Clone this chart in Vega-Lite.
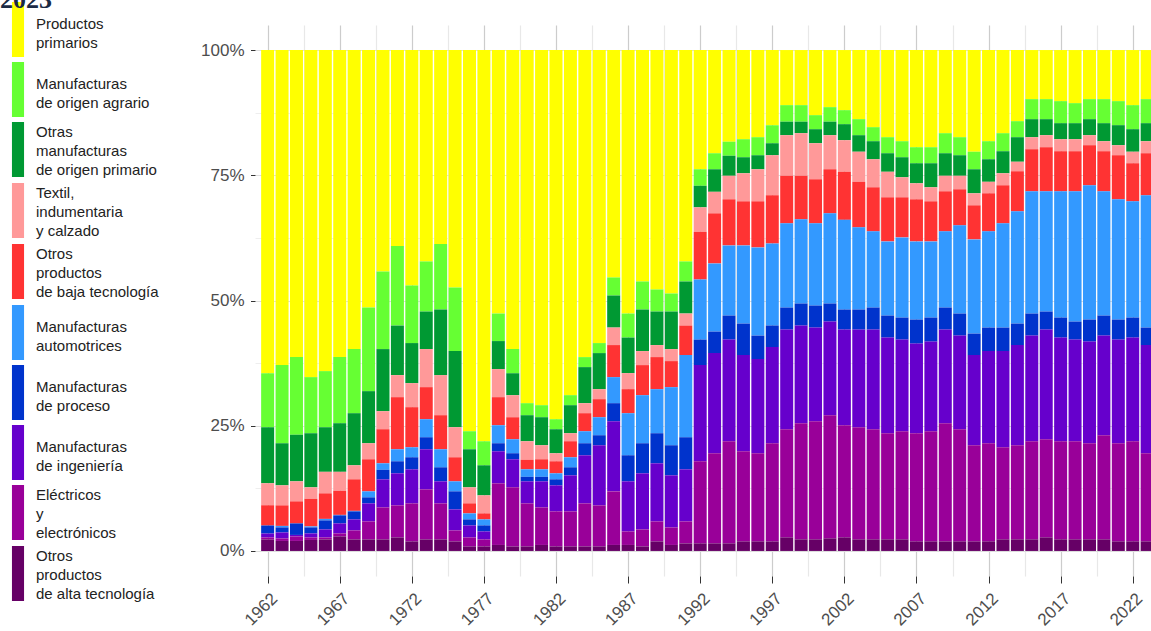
{
  "$schema": "https://vega.github.io/schema/vega-lite/v6.json",
  "width": 896,
  "height": 551,
  "autosize": {"type": "none"},
  "padding": {"left": 255, "top": 25, "right": 0, "bottom": 55},
  "background": "white",
  "title": {"text": "2023", "anchor": "start", "frame": "group", "orient": "top", "offset": 0, "dx": -255, "dy": 32, "baseline": "alphabetic", "font": "Liberation Serif", "fontSize": 26, "fontWeight": "bold", "color": "#1b2a44"},
  "data": {"values": [
    {"year":1962,"alta":2.3,"electricos":0.4,"ingenieria":0.8,"proceso":1.6,"auto":0.0,"baja":4.0,"textil":4.4,"omop":11.2,"moa":10.8,"primarios":64.5},
    {"year":1963,"alta":2.0,"electricos":0.5,"ingenieria":1.2,"proceso":1.0,"auto":0.3,"baja":4.1,"textil":4.0,"omop":8.4,"moa":15.6,"primarios":62.9},
    {"year":1964,"alta":2.0,"electricos":0.9,"ingenieria":0.3,"proceso":2.3,"auto":0.0,"baja":4.4,"textil":4.0,"omop":9.3,"moa":15.5,"primarios":61.3},
    {"year":1965,"alta":2.2,"electricos":0.5,"ingenieria":0.8,"proceso":1.2,"auto":0.2,"baja":5.5,"textil":2.3,"omop":10.8,"moa":11.2,"primarios":65.3},
    {"year":1966,"alta":2.3,"electricos":0.4,"ingenieria":1.6,"proceso":1.8,"auto":0.3,"baja":5.1,"textil":4.3,"omop":8.9,"moa":11.2,"primarios":64.1},
    {"year":1967,"alta":2.9,"electricos":0.6,"ingenieria":2.0,"proceso":1.6,"auto":0.1,"baja":4.8,"textil":3.8,"omop":9.7,"moa":13.2,"primarios":61.3},
    {"year":1968,"alta":2.3,"electricos":1.8,"ingenieria":2.2,"proceso":1.6,"auto":0.1,"baja":6.3,"textil":2.8,"omop":10.4,"moa":12.8,"primarios":59.7},
    {"year":1969,"alta":2.3,"electricos":3.6,"ingenieria":3.6,"proceso":1.2,"auto":1.2,"baja":6.4,"textil":3.2,"omop":10.4,"moa":16.7,"primarios":51.4},
    {"year":1970,"alta":2.3,"electricos":6.4,"ingenieria":5.6,"proceso":1.9,"auto":1.3,"baja":6.8,"textil":3.6,"omop":12.4,"moa":15.5,"primarios":44.2},
    {"year":1971,"alta":2.7,"electricos":6.4,"ingenieria":6.4,"proceso":2.4,"auto":2.4,"baja":10.4,"textil":4.4,"omop":9.9,"moa":15.9,"primarios":39.1},
    {"year":1972,"alta":1.9,"electricos":7.6,"ingenieria":6.8,"proceso":2.4,"auto":2.0,"baja":8.0,"textil":4.8,"omop":8.0,"moa":11.5,"primarios":47.0},
    {"year":1973,"alta":2.3,"electricos":10.0,"ingenieria":8.0,"proceso":2.4,"auto":3.6,"baja":6.4,"textil":7.6,"omop":7.5,"moa":10.0,"primarios":42.2},
    {"year":1974,"alta":2.3,"electricos":7.2,"ingenieria":4.4,"proceso":2.8,"auto":3.6,"baja":6.8,"textil":8.0,"omop":13.1,"moa":13.1,"primarios":38.7},
    {"year":1975,"alta":1.9,"electricos":2.2,"ingenieria":4.2,"proceso":3.6,"auto":2.0,"baja":4.8,"textil":6.0,"omop":15.2,"moa":12.7,"primarios":47.4},
    {"year":1976,"alta":0.9,"electricos":1.8,"ingenieria":2.4,"proceso":1.2,"auto":1.2,"baja":2.0,"textil":3.2,"omop":7.6,"moa":3.6,"primarios":76.1},
    {"year":1977,"alta":0.9,"electricos":1.4,"ingenieria":1.6,"proceso":1.2,"auto":1.2,"baja":1.2,"textil":3.6,"omop":6.0,"moa":4.8,"primarios":78.1},
    {"year":1978,"alta":1.2,"electricos":12.3,"ingenieria":6.4,"proceso":1.6,"auto":3.6,"baja":5.6,"textil":5.6,"omop":5.6,"moa":5.5,"primarios":52.6},
    {"year":1979,"alta":0.9,"electricos":11.8,"ingenieria":5.6,"proceso":1.2,"auto":2.8,"baja":4.4,"textil":4.4,"omop":4.4,"moa":4.8,"primarios":59.7},
    {"year":1980,"alta":0.9,"electricos":8.6,"ingenieria":4.4,"proceso":0.9,"auto":1.5,"baja":1.9,"textil":3.7,"omop":5.2,"moa":2.4,"primarios":70.5},
    {"year":1981,"alta":1.2,"electricos":7.5,"ingenieria":5.2,"proceso":0.9,"auto":1.5,"baja":2.0,"textil":2.8,"omop":5.6,"moa":2.4,"primarios":70.9},
    {"year":1982,"alta":0.9,"electricos":7.0,"ingenieria":5.2,"proceso":1.2,"auto":1.2,"baja":2.4,"textil":1.6,"omop":4.8,"moa":2.0,"primarios":73.7},
    {"year":1983,"alta":0.9,"electricos":7.0,"ingenieria":7.2,"proceso":1.6,"auto":2.0,"baja":3.2,"textil":1.6,"omop":5.6,"moa":2.0,"primarios":68.9},
    {"year":1984,"alta":0.9,"electricos":8.6,"ingenieria":9.6,"proceso":2.4,"auto":2.4,"baja":3.6,"textil":2.0,"omop":7.2,"moa":2.0,"primarios":61.3},
    {"year":1985,"alta":0.9,"electricos":8.2,"ingenieria":12.0,"proceso":2.0,"auto":3.6,"baja":3.6,"textil":2.0,"omop":7.2,"moa":2.0,"primarios":58.5},
    {"year":1986,"alta":1.2,"electricos":10.7,"ingenieria":14.0,"proceso":3.6,"auto":5.2,"baja":6.4,"textil":3.5,"omop":6.4,"moa":3.6,"primarios":45.4},
    {"year":1987,"alta":1.2,"electricos":2.7,"ingenieria":10.0,"proceso":5.2,"auto":8.4,"baja":4.8,"textil":3.2,"omop":7.1,"moa":4.8,"primarios":52.6},
    {"year":1988,"alta":0.9,"electricos":3.4,"ingenieria":11.2,"proceso":6.0,"auto":9.6,"baja":6.0,"textil":2.8,"omop":8.3,"moa":5.6,"primarios":46.2},
    {"year":1989,"alta":1.9,"electricos":4.0,"ingenieria":11.6,"proceso":6.0,"auto":8.8,"baja":6.4,"textil":2.4,"omop":6.7,"moa":4.4,"primarios":47.8},
    {"year":1990,"alta":1.2,"electricos":3.5,"ingenieria":10.4,"proceso":6.0,"auto":11.6,"baja":5.2,"textil":2.4,"omop":7.5,"moa":3.6,"primarios":48.6},
    {"year":1991,"alta":1.5,"electricos":4.4,"ingenieria":10.4,"proceso":6.4,"auto":16.4,"baja":5.9,"textil":2.4,"omop":6.4,"moa":4.0,"primarios":42.2},
    {"year":1992,"alta":1.5,"electricos":16.4,"ingenieria":19.2,"proceso":5.1,"auto":12.0,"baja":9.5,"textil":4.9,"omop":4.3,"moa":3.3,"primarios":23.8},
    {"year":1993,"alta":1.5,"electricos":18.0,"ingenieria":20.0,"proceso":4.3,"auto":13.6,"baja":10.0,"textil":4.3,"omop":4.5,"moa":3.2,"primarios":20.6},
    {"year":1994,"alta":1.5,"electricos":20.4,"ingenieria":20.3,"proceso":4.8,"auto":14.0,"baja":9.2,"textil":4.7,"omop":4.0,"moa":2.8,"primarios":18.3},
    {"year":1995,"alta":1.9,"electricos":18.0,"ingenieria":19.2,"proceso":6.3,"auto":15.6,"baja":8.8,"textil":5.6,"omop":3.2,"moa":3.6,"primarios":17.8},
    {"year":1996,"alta":1.9,"electricos":17.6,"ingenieria":18.8,"proceso":4.7,"auto":17.6,"baja":9.2,"textil":6.4,"omop":2.8,"moa":3.6,"primarios":17.4},
    {"year":1997,"alta":1.9,"electricos":19.6,"ingenieria":19.2,"proceso":4.3,"auto":16.4,"baja":9.6,"textil":8.0,"omop":2.4,"moa":3.6,"primarios":15.0},
    {"year":1998,"alta":2.7,"electricos":21.6,"ingenieria":19.9,"proceso":4.4,"auto":16.8,"baja":9.5,"textil":8.1,"omop":2.7,"moa":3.3,"primarios":11.0},
    {"year":1999,"alta":2.3,"electricos":23.2,"ingenieria":19.5,"proceso":4.4,"auto":16.8,"baja":8.7,"textil":8.5,"omop":2.3,"moa":3.3,"primarios":11.0},
    {"year":2000,"alta":2.3,"electricos":23.6,"ingenieria":18.7,"proceso":4.4,"auto":16.4,"baja":8.8,"textil":7.2,"omop":2.8,"moa":2.8,"primarios":13.0},
    {"year":2001,"alta":2.5,"electricos":24.6,"ingenieria":18.7,"proceso":3.6,"auto":18.0,"baja":8.8,"textil":6.8,"omop":2.7,"moa":2.9,"primarios":11.4},
    {"year":2002,"alta":2.7,"electricos":22.4,"ingenieria":19.1,"proceso":4.0,"auto":17.9,"baja":9.6,"textil":6.3,"omop":3.2,"moa":2.8,"primarios":12.0},
    {"year":2003,"alta":2.3,"electricos":22.4,"ingenieria":19.5,"proceso":4.0,"auto":16.4,"baja":9.1,"textil":6.0,"omop":3.3,"moa":3.2,"primarios":13.8},
    {"year":2004,"alta":2.3,"electricos":22.0,"ingenieria":19.9,"proceso":4.4,"auto":15.2,"baja":8.8,"textil":5.6,"omop":3.6,"moa":2.8,"primarios":15.4},
    {"year":2005,"alta":2.3,"electricos":21.2,"ingenieria":19.1,"proceso":4.4,"auto":14.8,"baja":8.8,"textil":5.1,"omop":3.7,"moa":3.2,"primarios":17.4},
    {"year":2006,"alta":2.3,"electricos":21.6,"ingenieria":18.3,"proceso":4.4,"auto":16.0,"baja":8.0,"textil":4.0,"omop":4.0,"moa":3.2,"primarios":18.2},
    {"year":2007,"alta":1.9,"electricos":21.6,"ingenieria":17.9,"proceso":4.8,"auto":15.6,"baja":8.4,"textil":3.2,"omop":4.0,"moa":3.2,"primarios":19.4},
    {"year":2008,"alta":1.9,"electricos":22.0,"ingenieria":17.9,"proceso":4.8,"auto":15.2,"baja":8.0,"textil":2.8,"omop":4.8,"moa":3.2,"primarios":19.4},
    {"year":2009,"alta":1.9,"electricos":23.6,"ingenieria":18.7,"proceso":4.4,"auto":15.2,"baja":8.0,"textil":3.1,"omop":4.5,"moa":4.0,"primarios":16.6},
    {"year":2010,"alta":1.9,"electricos":22.4,"ingenieria":18.7,"proceso":4.4,"auto":17.6,"baja":7.2,"textil":2.7,"omop":4.1,"moa":3.6,"primarios":17.4},
    {"year":2011,"alta":1.9,"electricos":19.2,"ingenieria":18.0,"proceso":4.3,"auto":18.8,"baja":6.8,"textil":2.4,"omop":4.8,"moa":3.5,"primarios":20.3},
    {"year":2012,"alta":1.9,"electricos":19.6,"ingenieria":18.4,"proceso":4.7,"auto":19.2,"baja":7.6,"textil":2.3,"omop":4.5,"moa":3.6,"primarios":18.2},
    {"year":2013,"alta":2.3,"electricos":18.4,"ingenieria":19.2,"proceso":4.7,"auto":20.8,"baja":7.6,"textil":2.4,"omop":4.4,"moa":3.6,"primarios":16.6},
    {"year":2014,"alta":2.3,"electricos":18.8,"ingenieria":20.0,"proceso":4.3,"auto":22.4,"baja":8.0,"textil":1.9,"omop":4.9,"moa":3.2,"primarios":14.2},
    {"year":2015,"alta":2.3,"electricos":19.6,"ingenieria":21.1,"proceso":4.4,"auto":24.4,"baja":8.4,"textil":2.4,"omop":3.6,"moa":4.0,"primarios":9.8},
    {"year":2016,"alta":2.7,"electricos":19.6,"ingenieria":21.9,"proceso":3.6,"auto":24.0,"baja":8.8,"textil":2.4,"omop":3.2,"moa":4.0,"primarios":9.8},
    {"year":2017,"alta":2.3,"electricos":19.6,"ingenieria":20.7,"proceso":4.0,"auto":25.2,"baja":8.0,"textil":2.4,"omop":3.2,"moa":4.4,"primarios":10.2},
    {"year":2018,"alta":2.3,"electricos":19.6,"ingenieria":20.3,"proceso":3.6,"auto":26.0,"baja":8.0,"textil":2.4,"omop":3.2,"moa":4.0,"primarios":10.6},
    {"year":2019,"alta":2.3,"electricos":19.2,"ingenieria":20.3,"proceso":4.4,"auto":26.8,"baja":8.0,"textil":2.0,"omop":3.2,"moa":4.0,"primarios":9.8},
    {"year":2020,"alta":2.3,"electricos":20.8,"ingenieria":19.9,"proceso":4.0,"auto":24.8,"baja":8.0,"textil":2.0,"omop":3.6,"moa":4.8,"primarios":9.8},
    {"year":2021,"alta":1.9,"electricos":19.6,"ingenieria":20.7,"proceso":4.0,"auto":24.0,"baja":8.8,"textil":2.0,"omop":4.0,"moa":4.8,"primarios":10.2},
    {"year":2022,"alta":1.9,"electricos":20.0,"ingenieria":20.7,"proceso":4.0,"auto":23.2,"baja":7.6,"textil":2.3,"omop":4.5,"moa":4.8,"primarios":11.0},
    {"year":2023,"alta":1.9,"electricos":17.6,"ingenieria":21.6,"proceso":3.5,"auto":26.4,"baja":8.4,"textil":2.4,"omop":3.6,"moa":4.8,"primarios":9.8}
  ]},
  "transform": [
    {"fold": ["primarios","moa","omop","textil","baja","auto","proceso","ingenieria","electricos","alta"], "as": ["cat","value"]},
    {"calculate": "indexof(['alta','electricos','ingenieria','proceso','auto','baja','textil','omop','moa','primarios'], datum.cat)", "as": "stack_order"}
  ],
  "mark": {"type": "bar", "size": 13, "clip": true},
  "encoding": {
    "x": {
      "field": "year", "type": "quantitative",
      "scale": {"domain": [1961.47, 2022.92], "nice": false, "zero": false},
      "axis": {
        "title": null,
        "values": [1962,1964.5,1967,1969.5,1972,1974.5,1977,1979.5,1982,1984.5,1987,1989.5,1992,1994.5,1997,1999.5,2002,2004.5,2007,2009.5,2012,2014.5,2017,2019.5,2022],
        "format": "d",
        "labelExpr": "datum.value % 5 == 2 ? datum.label : ''",
        "grid": true,
        "gridColor": {"condition": {"test": "datum.value % 5 == 2", "value": "#cccccc"}, "value": "#e8e8e8"},
        "gridWidth": 1.2,
        "tickColor": {"condition": {"test": "datum.value % 5 == 2", "value": "#333333"}, "value": "transparent"},
        "tickSize": 7,
        "domain": false,
        "labelAngle": -45,
        "labelAlign": "right",
        "labelBaseline": "top",
        "labelOffset": 1,
        "labelPadding": 7,
        "labelOverlap": false,
        "labelFlush": false,
        "labelBound": false,
        "labelFont": "Liberation Sans",
        "labelFontSize": 17,
        "labelColor": "#4d4d4d"
      }
    },
    "y": {
      "field": "value", "type": "quantitative", "stack": "normalize",
      "scale": {"domain": [-0.05, 1.05], "nice": false, "zero": false},
      "axis": {
        "title": null,
        "values": [0,0.125,0.25,0.375,0.5,0.625,0.75,0.875,1],
        "labelExpr": "(datum.value * 4) % 1 == 0 ? format(datum.value, '.0%') : ''",
        "grid": true,
        "gridColor": {"condition": {"test": "(datum.value * 4) % 1 == 0", "value": "#dddddd"}, "value": "#eeeeee"},
        "tickColor": {"condition": {"test": "(datum.value * 4) % 1 == 0", "value": "#333333"}, "value": "transparent"},
        "tickSize": 4.5,
        "domain": false,
        "labelPadding": 6.5,
        "labelFont": "Liberation Sans",
        "labelFontSize": 17,
        "labelColor": "#4d4d4d"
      }
    },
    "order": {"field": "stack_order", "type": "quantitative", "sort": "ascending"},
    "color": {
      "field": "cat", "type": "nominal",
      "scale": {
        "domain": ["primarios","moa","omop","textil","baja","auto","proceso","ingenieria","electricos","alta"],
        "range": ["#FFFF00","#66FF33","#009933","#FF9999","#FF3333","#3399FF","#0033CC","#6600CC","#990099","#660066"]
      },
      "legend": {
        "title": null,
        "orient": "none",
        "legendX": -264.5,
        "legendY": -23,
        "direction": "vertical",
        "padding": 0,
        "symbolType": "M-0.22,-1H0.22V1H-0.22Z",
        "symbolSize": 3025,
        "symbolStrokeWidth": 0,
        "symbolOpacity": 1,
        "rowPadding": 5,
        "labelOffset": -9.5,
        "labelLimit": 300,
        "labelFont": "Liberation Sans",
        "labelFontSize": 15,
        "labelColor": "#222222",
        "labelBaseline": "middle",
        "labelExpr": "{'primarios':['Productos','primarios'],'moa':['Manufacturas','de origen agrario'],'omop':['Otras','manufacturas','de origen primario'],'textil':['Textil,','indumentaria','y calzado'],'baja':['Otros','productos','de baja tecnología'],'auto':['Manufacturas','automotrices'],'proceso':['Manufacturas','de proceso'],'ingenieria':['Manufacturas','de ingeniería'],'electricos':['Eléctricos','y','electrónicos'],'alta':['Otros','productos','de alta tecnología']}[datum.value]",
        "encode": {"labels": {"update": {
          "lineHeight": {"value": 19},
          "dy": {"signal": "indexof(['omop','textil','baja','electricos','alta'], datum.value) >= 0 ? -17.5 : -6"}
        }}}
      }
    }
  },
  "config": {"view": {"stroke": null}}
}
